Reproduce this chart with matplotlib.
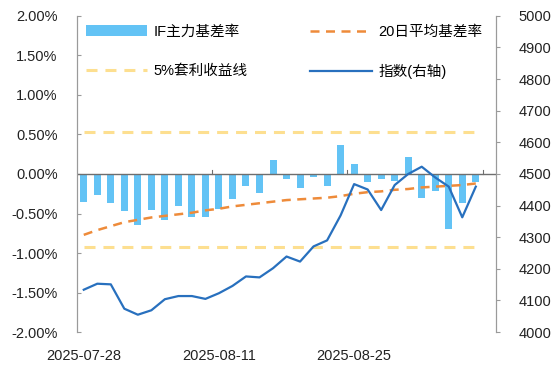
import numpy as np
import matplotlib.pyplot as plt
import pandas as pd

plt.rcParams['font.family'] = ['Liberation Sans', 'Noto Sans CJK SC']
plt.rcParams['axes.unicode_minus'] = False

# trading days
dates = pd.bdate_range('2025-07-28', '2025-09-05')
date_labels = [d.strftime('%Y-%m-%d') for d in dates]

# IF main contract basis rate (%)
basis = [-0.35, -0.27, -0.37, -0.47, -0.64, -0.46, -0.58, -0.41, -0.55, -0.54,
         -0.44, -0.32, -0.15, -0.24, 0.18, -0.06, -0.18, -0.04, -0.15, 0.37,
         0.13, -0.10, -0.06, -0.09, 0.22, -0.31, -0.22, -0.69, -0.37, -0.10]
# 20-day average basis rate (%)
basis_ma20 = [-0.77, -0.71, -0.66, -0.61, -0.58, -0.55, -0.53, -0.51, -0.49, -0.46,
              -0.44, -0.41, -0.39, -0.37, -0.35, -0.33, -0.32, -0.31, -0.30, -0.28,
              -0.25, -0.23, -0.22, -0.20, -0.19, -0.17, -0.16, -0.15, -0.14, -0.12]
# index (right axis)
index_vals = [4134, 4153, 4151, 4074, 4055, 4069, 4104, 4114, 4114, 4105,
              4123, 4146, 4176, 4173, 4202, 4239, 4223, 4271, 4290, 4369,
              4468, 4451, 4386, 4465, 4500, 4523, 4489, 4460, 4363, 4460]
# 5% arbitrage lines (%)
arb_upper = 0.53
arb_lower = -0.92

x = np.arange(len(dates))

fig = plt.figure(figsize=(5.58, 3.69), dpi=100)
ax = fig.add_axes([0.138, 0.100, 0.751, 0.857])
ax2 = ax.twinx()

c_bar = '#63C3F5'
c_ma = '#EE8B3A'
c_arb = '#FDDF90'
c_idx = '#2870BE'
c_grid = '#9A9A9A'

bars = ax.bar(x, basis, width=0.52, color=c_bar, zorder=2)
ma_line, = ax.plot(x, basis_ma20, color=c_ma, lw=1.8, dashes=(3.6, 2.6), zorder=3)
arb_line, = ax.plot(x, [arb_upper] * len(x), color=c_arb, lw=2.2, dashes=(3.6, 2.6), zorder=1)
ax.plot(x, [arb_lower] * len(x), color=c_arb, lw=2.2, dashes=(3.6, 2.6), zorder=1)
idx_line, = ax2.plot(x, index_vals, color=c_idx, lw=1.6, zorder=4)

ax.set_xlim(-0.5, 30.5)
ax.set_ylim(-2.0, 2.0)
ax2.set_ylim(4000, 5000)
yt = np.arange(-2.0, 2.01, 0.5)
ax.set_yticks(yt)
ax.set_yticklabels([f'{v:.2f}%' for v in yt])
ax2.set_yticks(np.arange(4000, 5001, 100))

for a in (ax, ax2):
    a.spines['top'].set_visible(False)
    a.spines['bottom'].set_visible(False)
    a.spines['left'].set_color(c_grid)
    a.spines['right'].set_color(c_grid)
ax.tick_params(axis='y', direction='in', length=3, color=c_grid, labelsize=10.5, pad=14, labelcolor='#222222')
ax2.tick_params(axis='y', direction='out', length=3, color=c_grid, labelsize=10.5, pad=13, labelcolor='#222222')

# zero line with ticks on category boundaries
ax.axhline(0, color='#6E6E6E', lw=1.0, zorder=5)
ax.tick_params(axis='x', bottom=False, labelbottom=False)
for t in [9.5, 19.5, 29.5]:
    ax.plot([t, t], [0, 0.05], color='#6E6E6E', lw=0.8, zorder=5)

# date labels every 10 trading days
for p in [0, 10, 20]:
    ax.text(p, -2.22, date_labels[p], ha='center', va='top', fontsize=10.5,
            color='#222222', clip_on=False)

leg = ax.legend([bars, arb_line, ma_line, idx_line],
                ['IF主力基差率', '5%套利收益线', '20日平均基差率', '指数(右轴)'],
                ncol=2, loc='upper left', bbox_to_anchor=(0.0, 1.0),
                frameon=False, fontsize=10.5, handlelength=4.2, handletextpad=0.45,
                columnspacing=4.3, labelspacing=1.75, borderaxespad=0.3, borderpad=0.3)
leg.set_zorder(10)

fig.savefig('out.png', dpi=100)
